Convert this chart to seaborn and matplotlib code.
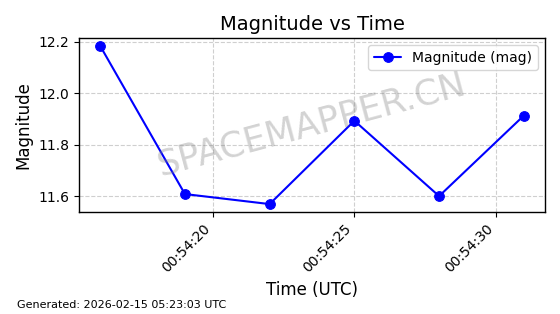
import matplotlib
matplotlib.use("Agg")
import matplotlib.pyplot as plt
import matplotlib.dates as mdates
import seaborn as sns
import pandas as pd

times = ["2026-02-15 00:54:16", "2026-02-15 00:54:19", "2026-02-15 00:54:22",
         "2026-02-15 00:54:25", "2026-02-15 00:54:28", "2026-02-15 00:54:31"]
magnitudes = [12.184, 11.608, 11.569, 11.893, 11.600, 11.913]

df = pd.DataFrame({"time": pd.to_datetime(times), "mag": magnitudes})

sns.set_style("ticks")
plt.rcParams['font.family'] = ['DejaVu Sans']
plt.rcParams['text.color'] = 'black'
plt.rcParams['axes.labelcolor'] = 'black'
plt.rcParams['xtick.color'] = 'black'
plt.rcParams['ytick.color'] = 'black'

fig = plt.figure(figsize=(5.6, 3.14), dpi=100)
ax = fig.add_axes([79/560, 1 - 212/314, (545-79)/560, (212-38)/314])

sns.lineplot(data=df, x="time", y="mag", ax=ax, color="blue", marker="o",
             markersize=7, markeredgecolor="blue", linewidth=1.5,
             label="Magnitude (mag)")

ax.set_title("Magnitude vs Time", fontsize=14, color="black")
ax.set_xlabel("Time (UTC)", fontsize=12, color="black")
ax.set_ylabel("Magnitude", fontsize=12, color="black")
ax.xaxis.set_major_locator(mdates.SecondLocator(bysecond=[0, 5, 10, 15, 20, 25, 30, 35, 40, 45, 50, 55]))
ax.xaxis.set_major_formatter(mdates.DateFormatter("%H:%M:%S"))
ax.set_yticks([11.6, 11.8, 12.0, 12.2])
plt.setp(ax.get_xticklabels(), rotation=45, ha="right", rotation_mode="default")
ax.tick_params(labelsize=10, color="black", labelcolor="black", length=3.5)
for s in ax.spines.values():
    s.set_color("black")
    s.set_linewidth(1.0)
ax.grid(True, linestyle="--", alpha=0.6, color="#b0b0b0")
leg = ax.legend(loc="upper right", fontsize=10)
for t in leg.get_texts():
    t.set_color("black")

ax.text(0.5, 0.5, "SPACEMAPPER.CN", transform=ax.transAxes, fontsize=25.5,
        color="gray", alpha=0.35, rotation=15, ha="center", va="center")

fig.text(17/560, 1 - 305/314, "Generated: 2026-02-15 05:23:03 UTC", fontsize=8, va="center", color="black")

fig.savefig("out.png", dpi=100)
